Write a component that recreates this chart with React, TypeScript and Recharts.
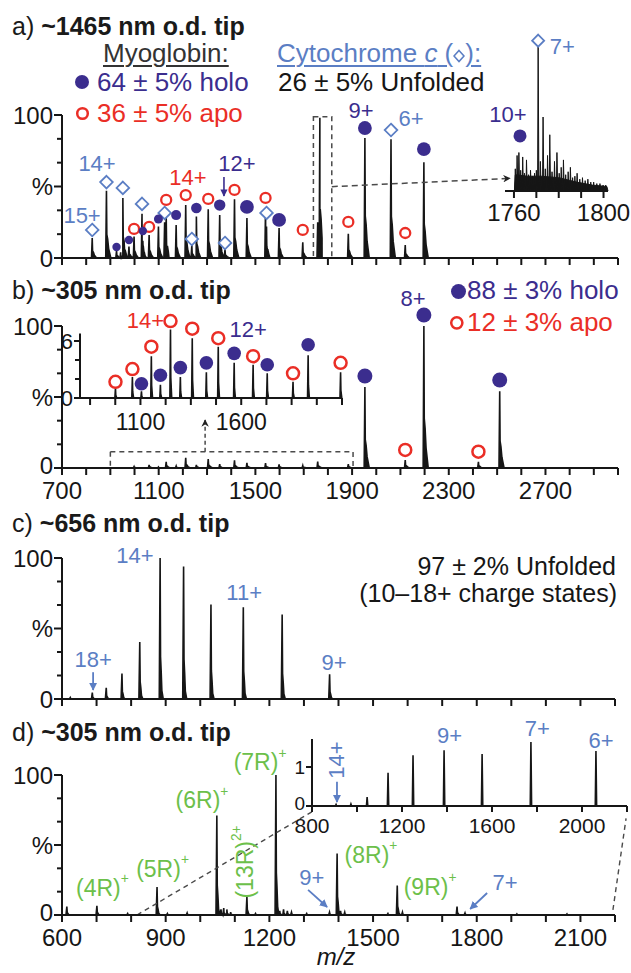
import React from 'react';
import { ComposedChart, Area, Scatter, XAxis, YAxis, ReferenceLine, ReferenceArea } from 'recharts';

const FONT = '"Liberation Sans", Arial, Helvetica, sans-serif';
const INK = '#161616';
const PURPLE = '#3b2d8e';
const RED = '#ea2e26';
const BLUE = '#5b7ec4';
const GREEN = '#6cc04a';
const DASH = '#4a4a4a';

// ---------- tick values / labels ----------
const pctTicks = [0, 100 / 6, 200 / 6, 50, 400 / 6, 500 / 6, 100];
const abTicks = [700, 800, 900, 1000, 1100, 1200, 1300, 1400, 1500, 1600, 1700, 1800, 1900, 2000, 2100, 2200, 2300, 2400, 2500, 2600, 2700, 2800, 2900, 3000];
const bTickLabels = [700, 1100, 1500, 1900, 2300, 2700];
const cdTicks = [600, 700, 800, 900, 1000, 1100, 1200, 1300, 1400, 1500, 1600, 1700, 1800, 1900, 2000, 2100, 2200];
const dTickLabels = [600, 900, 1200, 1500, 1800, 2100];
const insetATicks = [1760, 1770, 1780, 1790, 1800];
const insetATickLabels = [1760, 1800];
const insetBTicks = [850, 975, 1100, 1225, 1350, 1475, 1600, 1725, 1850, 1975, 2100];
const insetBTickLabels = [1100, 1600];
const insetBYTicks = [0, 2, 4, 6];
const insetDTicks = [800, 1000, 1200, 1400, 1600, 1800, 2000, 2200];
const insetDTickLabels = [800, 1200, 1600, 2000];
const insetDYTicks = [0, 1];

// ---------- panel a (main) ----------
const aHoloMz = [925.6, 977, 1034.4, 1099, 1172.2, 1255.9, 1352.4, 1465, 1598, 1757.8, 1953, 2197];
const aHoloInt = [5, 8, 12, 22, 23, 29, 30, 28, 21, 25, 84, 67];
const aApoMz = [942.7, 998.1, 1060.4, 1131, 1211.8, 1304.9, 1413.6, 1542, 1696, 1884.4, 2119.9];
const aApoInt = [4, 15, 16, 30, 37, 34, 41, 35, 11, 17, 9];
const aCytMz = [825, 883.9, 951.8, 1031, 1124.6, 1237, 1374.3, 1546, 1766.7, 2061];
const aCytInt = [14, 47, 42, 31, 25, 9, 6, 22, 98, 83];

const aHoloMarkMz = [925.6, 977, 1034.4, 1099, 1172.2, 1255.9, 1352.4, 1465, 1598, 1953, 2197];
const aHoloMarkY = [7.7, 12.6, 18.9, 27.3, 30, 35, 37, 35.7, 26.6, 90.9, 76.2];
const aApoMarkMz = [998.1, 1060.4, 1131, 1211.8, 1304.9, 1413.6, 1542, 1696, 1884.4, 2119.9];
const aApoMarkY = [20.3, 21.7, 40.6, 44, 41.3, 47.6, 42, 19.6, 25.2, 17.5];
const aCytMarkMz = [825, 883.9, 951.8, 1031, 1124.6, 1237, 1374.3, 1546, 2061];
const aCytMarkY = [19.6, 53.1, 49, 37.8, 31.5, 13.3, 10.5, 31.5, 89.5];

const aBlueLabelText = ['15+', '14+', '6+'];
const aBlueLabelMz = [783, 845, 2144];
const aBlueLabelY = [29.4, 66.4, 97.6];
const aRedLabelText = ['14+'];
const aRedLabelMz = [1221];
const aRedLabelY = [56.3];
const aPurpleLabelText = ['12+', '9+'];
const aPurpleLabelMz = [1424, 1937];
const aPurpleLabelY = [66.4, 102.8];

// ---------- panel a inset ----------
const aInsetMz = [1760.6, 1761.4, 1762.2, 1763.0, 1763.9, 1764.7, 1765.6, 1766.5, 1767.4, 1768.3, 1769.2, 1770.0, 1770.8, 1771.8, 1773.0, 1774.0, 1775.0, 1776.0, 1777.0, 1778.1, 1779.2, 1780.2, 1781.1, 1782.1, 1783.1, 1784.2, 1785.2, 1786.2, 1787.2, 1788.2, 1789.4, 1790.6, 1791.8, 1793.0, 1794.3, 1795.6, 1797.0, 1798.4, 1799.8, 1801.0];
const aInsetInt = [15, 24, 26, 14, 23, 12, 21, 11, 14, 10, 12, 14, 100, 20, 50, 15, 24, 38, 13, 20, 26, 12, 16, 21, 11, 13, 16, 9, 10, 12, 8, 9, 7, 8, 6, 6, 5, 5, 4, 4];
// unresolved background under the inset peaks
const aInsetHumpMz = [1756, 1760.2, 1760.6, 1766, 1772, 1780, 1788, 1795, 1801.5, 1802];
const aInsetHumpInt = [0, 0, 11, 10, 10, 9, 6, 4, 3, 0];

// ---------- panel b (main) ----------
const bHoloMz = [1099, 1172.2, 1255.9, 1352.4, 1465, 1598, 1757.8, 1953, 2197, 2510.7];
const bHoloInt = [0.7, 1.4, 2.2, 2.7, 3.7, 2.6, 4.5, 57, 100, 54];
const bApoMz = [998.1, 1060.4, 1131, 1211.8, 1304.9, 1413.6, 1542, 1696, 1884.4, 2119.9, 2422.6];
const bApoInt = [1.05, 2.2, 4.4, 7.2, 6.3, 5.4, 3.5, 1.7, 2.7, 5.6, 4.4];
const bHoloMarkMz = [1953, 2197, 2510.7];
const bHoloMarkY = [64.8, 107.7, 62];
const bApoMarkMz = [2119.9, 2422.6];
const bApoMarkY = [12.7, 11.5];
const bPurpleLabelText = ['8+'];
const bPurpleLabelMz = [2152];
const bPurpleLabelY = [119.7];

// ---------- panel b inset ----------
const bInsetApoMz = [976, 1060, 1154, 1249, 1357, 1486, 1659, 1857, 2093];
const bInsetApoInt = [1.05, 2.2, 4.4, 7.2, 6.3, 5.4, 3.5, 1.7, 2.7];
const bInsetApoMark = [1.7, 3.05, 5.4, 8.1, 7.3, 6.3, 4.4, 2.6, 3.7];
const bInsetHoloMz = [1105, 1199, 1298, 1427, 1565, 1729, 1932];
const bInsetHoloInt = [0.7, 1.4, 2.2, 2.7, 3.7, 2.6, 4.5];
const bInsetHoloMark = [1.5, 2.4, 3.2, 3.7, 4.7, 3.5, 5.6];

// ---------- panel c ----------
const cPeakMz = [624, 687.7, 728, 773.5, 825, 883.9, 951.8, 1031, 1124.6, 1237, 1374.3];
const cPeakInt = [1, 4.5, 8, 18, 40.5, 100, 94, 67, 65, 60, 17.5];
const cLabelText = ['18+', '14+', '11+', '9+'];
const cLabelMz = [690, 811, 1127, 1387];
const cLabelY = [27.7, 102, 75.2, 26.2];

// ---------- panel d (main) ----------
const dPeakMz = [614, 701, 790, 875, 905, 962, 1048, 1060, 1068, 1077, 1088, 1135, 1160, 1219, 1230, 1241, 1252, 1264, 1308, 1374, 1396, 1406, 1418, 1543, 1570, 1585, 1743, 1766, 1916, 2061];
const dPeakInt = [6, 6.5, 1, 20, 1, 1.5, 71, 4, 5, 4, 2, 13, 1, 100, 3, 4, 3, 2, 1, 2, 44, 3, 2, 1, 21, 2, 6, 1.5, 0.8, 0.8];
const dGreenText = ['(4R)', '(5R)', '(6R)', '(7R)', '(8R)', '(9R)'];
const dGreenSup = ['+', '+', '+', '+', '+', '+'];
const dGreenMz = [717, 891, 1005, 1173, 1494, 1665];
const dGreenY = [19.3, 32.9, 82, 109, 42.9, 20];
const dRotText = ['(13R)'];
const dRotSup = ['2+'];
const dRotMz = [1130];
const dRotY = [37.9];
const dBlueText = ['9+', '7+'];
const dBlueMz = [1323, 1882];
const dBlueY = [27, 22.9];

// ---------- panel d inset ----------
const dInsetMz = [907, 973, 1045, 1138, 1249, 1387, 1556, 1773, 2062];
const dInsetInt = [0.04, 0.05, 0.23, 0.85, 1.3, 1.43, 1.33, 1.64, 1.41];
const dInsetLabelText = ['9+', '7+', '6+'];
const dInsetLabelMz = [1411, 1801, 2085];
const dInsetLabelY = [1.82, 2.0, 1.69];
const dInsetRotText = ['14+'];
const dInsetRotMz = [911];
const dInsetRotY = [1.18];

// ---------- helpers ----------
type Pt = { x: number; y: number; t?: string; s?: string };
const pts = (xs: number[], ys: number[], ts?: string[], ss?: string[]): Pt[] =>
  xs.map((x, i) => ({ x, y: ys[i], t: ts ? ts[i] : undefined, s: ss ? ss[i] : undefined }));

function buildSpectrum(mz: number[], ints: number[], profile: number[][], lo: number, hi: number): Pt[] {
  const out: Pt[] = [{ x: lo, y: 0 }, { x: hi, y: 0 }];
  mz.forEach((m, i) => profile.forEach(([dx, f]) => out.push({ x: m + dx, y: ints[i] * f })));
  return out.sort((a, b) => a.x - b.x);
}

const profAB = [[-3, 0], [0, 1], [1.5, 0.35], [5, 0.28], [9, 0.14], [18, 0]];
const profCD = [[-2.5, 0], [0, 1], [1.2, 0.3], [3, 0.2], [5, 0.06], [9, 0]];
const profInsetA = [[-0.25, 0], [0, 1], [0.35, 0]];
const profInsetB = [[-3, 0], [0, 1], [1.5, 0.3], [6, 0]];
const profInsetD = [[-3, 0], [0, 1], [3, 0]];

const specA = buildSpectrum([...aHoloMz, ...aApoMz, ...aCytMz], [...aHoloInt, ...aApoInt, ...aCytInt], profAB, 700, 3000);
const specAInset = buildSpectrum(aInsetMz, aInsetInt, profInsetA, 1756, 1802);
const specAInsetHump = pts(aInsetHumpMz, aInsetHumpInt);
const specB = buildSpectrum([...bHoloMz, ...bApoMz], [...bHoloInt, ...bApoInt], profAB, 700, 3000);
const specBInset = buildSpectrum([...bInsetApoMz, ...bInsetHoloMz], [...bInsetApoInt, ...bInsetHoloInt], profInsetB, 800, 2100);
const specC = buildSpectrum(cPeakMz, cPeakInt, profCD, 600, 2200);
const specD = buildSpectrum(dPeakMz, dPeakInt, profCD, 600, 2200);
const specDInset = buildSpectrum(dInsetMz, dInsetInt, profInsetD, 800, 2200);

// ---------- shapes ----------
const dotShape = (rFn: (x: number) => number) => (p: any) => (
  <circle cx={p.cx} cy={p.cy} r={rFn(p.payload.x)} fill={PURPLE} />
);
const ringShape = (r: number, sw: number) => (p: any) => (
  <circle cx={p.cx} cy={p.cy} r={r} fill="#fff" stroke={RED} strokeWidth={sw} />
);
const diamondShape = (h: number) => (p: any) => (
  <polygon
    points={`${p.cx},${p.cy - h} ${p.cx + h},${p.cy} ${p.cx},${p.cy + h} ${p.cx - h},${p.cy}`}
    fill="#fff"
    stroke={BLUE}
    strokeWidth={1.8}
  />
);
const textShape = (color: string, size: number, rotate = false) => (p: any) => (
  <text
    x={p.cx}
    y={p.cy}
    fill={color}
    fontSize={size}
    fontFamily={FONT}
    textAnchor="middle"
    dominantBaseline="central"
    transform={rotate ? `rotate(-90 ${p.cx} ${p.cy})` : undefined}
  >
    {p.payload.t}
    {p.payload.s ? (
      <tspan fontSize={size * 0.6} dy={-size * 0.42}>
        {p.payload.s}
      </tspan>
    ) : null}
  </text>
);

const aDotR = (x: number) => (x < 1060 ? 4.2 : x < 1140 ? 4.5 : x < 1200 ? 5 : x < 1300 ? 5.3 : x < 1400 ? 5.7 : 6.9);

// ---------- chart frame ----------
type YCfg = { width: number; ticks: number[]; label: (v: number) => string; major: number; minor: number; fontSize: number; lineTop: number; dy?: number };
type Cfg = {
  top: number; height: number; plotLeft: number; plotRight: number;
  y0: number; yRefPx: number; yRef: number; yMax: number;
  xDomain: [number, number]; xTicks: number[]; xLabels: number[];
  xAxisHeight: number; tickSize: number; tickMargin: number; fontSize: number;
  yAxis?: YCfg;
};

const mainYLabel = (v: number) => (Math.abs(v - 100) < 0.01 ? '100' : Math.abs(v - 50) < 0.01 ? '%' : Math.abs(v) < 0.01 ? '0' : '');

function Spec({ cfg, children }: { cfg: Cfg; children?: React.ReactNode }) {
  const k = (cfg.y0 - cfg.yRefPx) / cfg.yRef;
  const plotTop = cfg.y0 - cfg.yMax * k;
  const ya = cfg.yAxis;
  const yw = ya ? ya.width : 0;
  const margin = {
    top: plotTop - cfg.top,
    left: cfg.plotLeft - yw,
    right: 631 - cfg.plotRight,
    bottom: cfg.height - (cfg.y0 - cfg.top) - cfg.xAxisHeight,
  };
  const yTick = (props: any) => {
    if (!ya) return <g />;
    const { x, y, payload } = props;
    const lab = ya.label(payload.value);
    const len = lab ? ya.major : ya.minor;
    const shift = payload.value === 0 && ya.dy ? ya.dy : 0;
    return (
      <g>
        <line x1={x - len} x2={x} y1={y} y2={y} stroke={INK} strokeWidth={2} />
        {lab ? (
          <text x={x - len - 1} y={y + shift} textAnchor="end" dominantBaseline="central" fontSize={ya.fontSize} fontFamily={FONT} fill={INK}>
            {lab}
          </text>
        ) : null}
      </g>
    );
  };
  return (
    <div style={{ position: 'absolute', left: 0, top: cfg.top }}>
      <ComposedChart width={631} height={cfg.height} margin={margin}>
        <XAxis
          type="number"
          dataKey="x"
          domain={cfg.xDomain}
          ticks={cfg.xTicks}
          interval={0}
          height={cfg.xAxisHeight}
          tickSize={cfg.tickSize}
          tickMargin={cfg.tickMargin}
          tickFormatter={(v: number) => (cfg.xLabels.includes(v) ? String(v) : '')}
          tick={{ fontSize: cfg.fontSize, fill: INK, fontFamily: FONT }}
          axisLine={{ stroke: INK, strokeWidth: 2 }}
          tickLine={{ stroke: INK, strokeWidth: 2 }}
        />
        {ya ? (
          <YAxis
            type="number"
            dataKey="y"
            domain={[0, cfg.yMax]}
            width={yw}
            ticks={ya.ticks}
            interval={0}
            tickSize={0}
            tickMargin={0}
            axisLine={false}
            tickLine={false}
            tick={yTick}
          />
        ) : (
          <YAxis hide type="number" dataKey="y" domain={[0, cfg.yMax]} />
        )}
        {ya ? (
          <ReferenceLine
            segment={[{ x: cfg.xDomain[0], y: 0 }, { x: cfg.xDomain[0], y: ya.lineTop }]}
            stroke={INK}
            strokeWidth={2}
            ifOverflow="visible"
          />
        ) : null}
        {children}
      </ComposedChart>
    </div>
  );
}

const mainY = (dy = 0): YCfg => ({ width: 60, ticks: pctTicks, label: mainYLabel, major: 8, minor: 5, fontSize: 24, lineTop: 100, dy });

const cfgA: Cfg = { top: 0, height: 285, plotLeft: 62, plotRight: 618, y0: 258, yRefPx: 115, yRef: 100, yMax: 112, xDomain: [700, 3000], xTicks: abTicks, xLabels: [], xAxisHeight: 20, tickSize: 7, tickMargin: 2, fontSize: 24, yAxis: mainY() };
const cfgAInset: Cfg = { top: 20, height: 212, plotLeft: 505, plotRight: 608, y0: 191, yRefPx: 43, yRef: 100, yMax: 110, xDomain: [1756, 1802], xTicks: insetATicks, xLabels: insetATickLabels, xAxisHeight: 32, tickSize: 7, tickMargin: 6, fontSize: 24 };
const cfgB: Cfg = { top: 280, height: 232, plotLeft: 62, plotRight: 618, y0: 468, yRefPx: 326, yRef: 100, yMax: 124, xDomain: [700, 3000], xTicks: abTicks, xLabels: bTickLabels, xAxisHeight: 42, tickSize: 7, tickMargin: 7, fontSize: 24, yAxis: mainY(-3) };
const cfgBInset: Cfg = { top: 300, height: 145, plotLeft: 80, plotRight: 342, y0: 398, yRefPx: 341, yRef: 6, yMax: 9.2, xDomain: [800, 2100], xTicks: insetBTicks, xLabels: insetBTickLabels, xAxisHeight: 35, tickSize: 7, tickMargin: 9, fontSize: 23, yAxis: { width: 30, ticks: insetBYTicks, label: (v) => (v === 6 ? '6' : v === 0 ? '0' : ''), major: 6, minor: 5, fontSize: 22, lineTop: 6.8 } };
const cfgC: Cfg = { top: 505, height: 215, plotLeft: 62, plotRight: 615, y0: 699, yRefPx: 558, yRef: 100, yMax: 112, xDomain: [600, 2200], xTicks: cdTicks, xLabels: [], xAxisHeight: 12, tickSize: 7, tickMargin: 2, fontSize: 24, yAxis: mainY() };
const cfgD: Cfg = { top: 720, height: 253, plotLeft: 62, plotRight: 615, y0: 915, yRefPx: 775, yRef: 100, yMax: 115, xDomain: [600, 2200], xTicks: cdTicks, xLabels: dTickLabels, xAxisHeight: 40, tickSize: 7, tickMargin: 7, fontSize: 24, yAxis: mainY(-3) };
const cfgDInset: Cfg = { top: 715, height: 140, plotLeft: 312, plotRight: 627, y0: 806, yRefPx: 767, yRef: 1, yMax: 2.3, xDomain: [800, 2200], xTicks: insetDTicks, xLabels: insetDTickLabels, xAxisHeight: 32, tickSize: 6, tickMargin: 6, fontSize: 21, yAxis: { width: 25, ticks: insetDYTicks, label: (v) => (v === 1 ? '1' : v === 0 ? '0' : ''), major: 6, minor: 4, fontSize: 19, lineTop: 1.72, dy: -3 } };

const areaProps = { type: 'linear' as const, dataKey: 'y', stroke: INK, strokeWidth: 1.6, fill: INK, fillOpacity: 1, baseValue: 0, dot: false, activeDot: false, isAnimationActive: false };

// ---------- text overlay ----------
function Txt({ x, y, size, lh, color = INK, anchor = 'start', style, children }: { x: number; y: number; size: number; lh?: number; color?: string; anchor?: 'start' | 'end' | 'middle'; style?: React.CSSProperties; children: React.ReactNode }) {
  const h = lh ?? size;
  const pos: React.CSSProperties =
    anchor === 'start' ? { left: x } : anchor === 'end' ? { right: 631 - x } : { left: x, transform: 'translateX(-50%)' };
  return (
    <div style={{ position: 'absolute', top: y - h / 2, fontSize: size, lineHeight: `${h}px`, fontFamily: FONT, color, whiteSpace: 'nowrap', ...pos, ...style }}>
      {children}
    </div>
  );
}

function Glyph({ x, y, kind, r }: { x: number; y: number; kind: 'dot' | 'ring'; r: number }) {
  return (
    <svg style={{ position: 'absolute', left: x - r - 2, top: y - r - 2 }} width={2 * r + 4} height={2 * r + 4}>
      {kind === 'dot' ? (
        <circle cx={r + 2} cy={r + 2} r={r} fill={PURPLE} />
      ) : (
        <circle cx={r + 2} cy={r + 2} r={r - 1.2} fill="#fff" stroke={RED} strokeWidth={2.5} />
      )}
    </svg>
  );
}

const Title = ({ y, tag, rest }: { y: number; tag: string; rest: string }) => (
  <Txt x={12} y={y} size={25} lh={22} color="#1a1a1a">
    {tag} <b>{rest}</b>
  </Txt>
);

export default function App() {
  return (
    <div style={{ position: 'absolute', left: 0, top: 0, width: 631, height: 973, background: '#fff', overflow: 'hidden', fontFamily: FONT }}>
      <svg width={0} height={0} style={{ position: 'absolute' }}>
        <defs>
          <marker id="ah-blue" viewBox="0 0 10 10" refX="9" refY="5" markerWidth="4.5" markerHeight="4.5" orient="auto">
            <path d="M0,0 L10,5 L0,10 z" fill={BLUE} />
          </marker>
          <marker id="ah-purple" viewBox="0 0 10 10" refX="9" refY="5" markerWidth="4.5" markerHeight="4.5" orient="auto">
            <path d="M0,0 L10,5 L0,10 z" fill={PURPLE} />
          </marker>
          <marker id="ah-dark" viewBox="0 0 10 10" refX="9" refY="5" markerWidth="5" markerHeight="5" orient="auto">
            <path d="M0,0 L10,5 L0,10 L3,5 z" fill="#222" />
          </marker>
        </defs>
      </svg>

      {/* ---------------- panel a ---------------- */}
      <Spec cfg={cfgA}>
        <Area data={specA} {...areaProps} />
        <ReferenceArea x1={1740} x2={1816} y1={0} y2={98.8} fill="none" stroke={DASH} strokeWidth={1.5} strokeDasharray="5 4" ifOverflow="visible" />
        <ReferenceLine segment={[{ x: 1816, y: 49.9 }, { x: 2553, y: 55.7 }]} stroke={DASH} strokeWidth={1.5} strokeDasharray="6 4" markerEnd="url(#ah-dark)" ifOverflow="visible" />
        <ReferenceLine segment={[{ x: 1370, y: 56.6 }, { x: 1370, y: 43.4 }]} stroke={PURPLE} strokeWidth={1.6} markerEnd="url(#ah-purple)" ifOverflow="visible" />
        <Scatter data={pts(aCytMarkMz, aCytMarkY)} dataKey="y" shape={diamondShape(6.3)} isAnimationActive={false} />
        <Scatter data={pts(aApoMarkMz, aApoMarkY)} dataKey="y" shape={ringShape(5, 2.3)} isAnimationActive={false} />
        <Scatter data={pts(aHoloMarkMz, aHoloMarkY)} dataKey="y" shape={dotShape(aDotR)} isAnimationActive={false} />
        <Scatter data={pts(aBlueLabelMz, aBlueLabelY, aBlueLabelText)} dataKey="y" shape={textShape(BLUE, 22)} isAnimationActive={false} />
        <Scatter data={pts(aRedLabelMz, aRedLabelY, aRedLabelText)} dataKey="y" shape={textShape(RED, 22)} isAnimationActive={false} />
        <Scatter data={pts(aPurpleLabelMz, aPurpleLabelY, aPurpleLabelText)} dataKey="y" shape={textShape(PURPLE, 22)} isAnimationActive={false} />
      </Spec>
      <Spec cfg={cfgAInset}>
        <Area data={specAInsetHump} {...areaProps} strokeWidth={1} />
        <Area data={specAInset} {...areaProps} strokeWidth={1} />
        <Scatter data={pts([1762.7], [37.2])} dataKey="y" shape={dotShape(() => 6.5)} isAnimationActive={false} />
        <Scatter data={pts([1770.8], [101.6])} dataKey="y" shape={diamondShape(6)} isAnimationActive={false} />
        <Scatter data={pts([1757.3], [51.4], ['10+'])} dataKey="y" shape={textShape(PURPLE, 22)} isAnimationActive={false} />
        <Scatter data={pts([1781.6], [97.5], ['7+'])} dataKey="y" shape={textShape(BLUE, 22)} isAnimationActive={false} />
      </Spec>

      {/* ---------------- panel b ---------------- */}
      <Spec cfg={cfgB}>
        <Area data={specB} {...areaProps} />
        <ReferenceArea x1={900} x2={1904} y1={0} y2={11.5} fill="none" stroke={DASH} strokeWidth={1.5} strokeDasharray="5 4" ifOverflow="visible" />
        <ReferenceLine segment={[{ x: 1292, y: 11.5 }, { x: 1292, y: 33.8 }]} stroke={DASH} strokeWidth={1.5} strokeDasharray="4 3" markerEnd="url(#ah-dark)" ifOverflow="visible" />
        <Scatter data={pts(bApoMarkMz, bApoMarkY)} dataKey="y" shape={ringShape(6, 2.5)} isAnimationActive={false} />
        <Scatter data={pts(bHoloMarkMz, bHoloMarkY)} dataKey="y" shape={dotShape(() => 7.5)} isAnimationActive={false} />
        <Scatter data={pts(bPurpleLabelMz, bPurpleLabelY, bPurpleLabelText)} dataKey="y" shape={textShape(PURPLE, 22)} isAnimationActive={false} />
      </Spec>
      <Spec cfg={cfgBInset}>
        <Area data={specBInset} {...areaProps} />
        <Scatter data={pts(bInsetApoMz, bInsetApoMark)} dataKey="y" shape={ringShape(6, 2.5)} isAnimationActive={false} />
        <Scatter data={pts(bInsetHoloMz, bInsetHoloMark)} dataKey="y" shape={dotShape(() => 6.8)} isAnimationActive={false} />
        <Scatter data={pts([1125], [8.2], ['14+'])} dataKey="y" shape={textShape(RED, 22)} isAnimationActive={false} />
        <Scatter data={pts([1635], [7.2], ['12+'])} dataKey="y" shape={textShape(PURPLE, 22)} isAnimationActive={false} />
      </Spec>

      {/* ---------------- panel c ---------------- */}
      <Spec cfg={cfgC}>
        <Area data={specC} {...areaProps} />
        <ReferenceLine segment={[{ x: 690, y: 19 }, { x: 690, y: 6.4 }]} stroke={BLUE} strokeWidth={1.8} markerEnd="url(#ah-blue)" ifOverflow="visible" />
        <Scatter data={pts(cLabelMz, cLabelY, cLabelText)} dataKey="y" shape={textShape(BLUE, 22)} isAnimationActive={false} />
      </Spec>

      {/* ---------------- panel d ---------------- */}
      <Spec cfg={cfgD}>
        <Area data={specD} {...areaProps} />
        <ReferenceLine segment={[{ x: 817, y: 0 }, { x: 1332, y: 75 }]} stroke={DASH} strokeWidth={1.4} strokeDasharray="5 4" ifOverflow="visible" />
        <ReferenceLine segment={[{ x: 2194, y: 3.6 }, { x: 2232, y: 69 }]} stroke={DASH} strokeWidth={1.4} strokeDasharray="5 4" ifOverflow="visible" />
        <ReferenceLine segment={[{ x: 1312, y: 17.9 }, { x: 1367, y: 5.7 }]} stroke={BLUE} strokeWidth={1.8} markerEnd="url(#ah-blue)" ifOverflow="visible" />
        <ReferenceLine segment={[{ x: 1830, y: 15.7 }, { x: 1781, y: 4.3 }]} stroke={BLUE} strokeWidth={1.8} markerEnd="url(#ah-blue)" ifOverflow="visible" />
        <Scatter data={pts(dGreenMz, dGreenY, dGreenText, dGreenSup)} dataKey="y" shape={textShape(GREEN, 23)} isAnimationActive={false} />
        <Scatter data={pts(dRotMz, dRotY, dRotText, dRotSup)} dataKey="y" shape={textShape(GREEN, 23, true)} isAnimationActive={false} />
        <Scatter data={pts(dBlueMz, dBlueY, dBlueText)} dataKey="y" shape={textShape(BLUE, 22)} isAnimationActive={false} />
      </Spec>
      <Spec cfg={cfgDInset}>
        <Area data={specDInset} {...areaProps} />
        <ReferenceLine segment={[{ x: 911, y: 0.62 }, { x: 911, y: 0.1 }]} stroke={BLUE} strokeWidth={1.8} markerEnd="url(#ah-blue)" ifOverflow="visible" />
        <Scatter data={pts(dInsetLabelMz, dInsetLabelY, dInsetLabelText)} dataKey="y" shape={textShape(BLUE, 22)} isAnimationActive={false} />
        <Scatter data={pts(dInsetRotMz, dInsetRotY, dInsetRotText)} dataKey="y" shape={textShape(BLUE, 22, true)} isAnimationActive={false} />
      </Spec>

      {/* ---------------- text overlays ---------------- */}
      <Title y={26} tag="a)" rest="~1465 nm o.d. tip" />
      <Txt x={103} y={53} size={26} lh={24} color="#333" style={{ textDecoration: 'underline', textDecorationThickness: '1.5px', textUnderlineOffset: '3px' }}>
        Myoglobin:
      </Txt>
      <Txt x={277} y={53} size={26} lh={24} color={BLUE} style={{ textDecoration: 'underline', textDecorationThickness: '1.5px', textUnderlineOffset: '3px' }}>
        Cytochrome <i>c</i> (
        <svg width={12} height={14} style={{ verticalAlign: '-1px' }}>
          <polygon points="6,1.5 11,7 6,12.5 1,7" fill="none" stroke={BLUE} strokeWidth={1.6} />
        </svg>
        ):
      </Txt>
      <Glyph x={82} y={82} kind="dot" r={7} />
      <Txt x={97} y={82} size={26} lh={24} color={PURPLE}>64 ± 5% holo</Txt>
      <Txt x={278} y={82} size={26} lh={24} color={INK}>26 ± 5% Unfolded</Txt>
      <Glyph x={82} y={113} kind="ring" r={6.5} />
      <Txt x={97} y={113} size={26} lh={24} color={RED}>36 ± 5% apo</Txt>

      <Title y={290} tag="b)" rest="~305 nm o.d. tip" />
      <Glyph x={458} y={291} kind="dot" r={7.5} />
      <Txt x={467} y={290} size={26} lh={24} color={PURPLE}>88 ± 3% holo</Txt>
      <Glyph x={457} y={323} kind="ring" r={6.8} />
      <Txt x={467} y={322} size={26} lh={24} color={RED}>12 ± 3% apo</Txt>

      <Title y={523} tag="c)" rest="~656 nm o.d. tip" />
      <Txt x={616} y={566} size={25} lh={22} anchor="end">97 ± 2% Unfolded</Txt>
      <Txt x={617} y={593} size={25} lh={22} anchor="end">(10–18+ charge states)</Txt>

      <Title y={732} tag="d)" rest="~305 nm o.d. tip" />
      <Txt x={336} y={957} size={24} lh={20} anchor="middle" style={{ fontStyle: 'italic' }}>m/z</Txt>
    </div>
  );
}
